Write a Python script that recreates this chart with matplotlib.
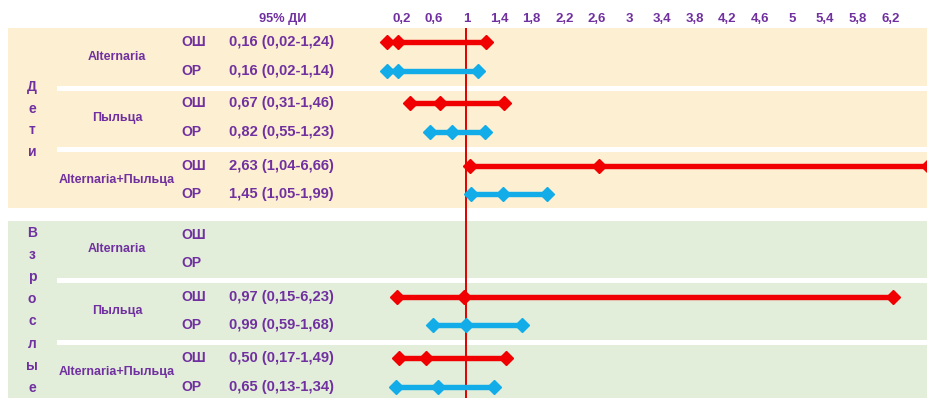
import matplotlib
matplotlib.use("Agg")
import matplotlib.pyplot as plt
from matplotlib.patches import Rectangle

plt.rcParams['font.family'] = ['Liberation Sans', 'DejaVu Sans']

# ---- data ----
groups = ['Alternaria', 'Пыльца', 'Alternaria+Пыльца']
measures = ['ОШ', 'ОР']

children_or = [0.16, 0.67, 2.63]
children_or_lo = [0.02, 0.31, 1.04]
children_or_hi = [1.24, 1.46, 6.66]
children_rr = [0.16, 0.82, 1.45]
children_rr_lo = [0.02, 0.55, 1.05]
children_rr_hi = [1.14, 1.23, 1.99]

adults_or = [None, 0.97, 0.50]
adults_or_lo = [None, 0.15, 0.17]
adults_or_hi = [None, 6.23, 1.49]
adults_rr = [None, 0.99, 0.65]
adults_rr_lo = [None, 0.59, 0.13]
adults_rr_hi = [None, 1.68, 1.34]

tick_values = [0.2, 0.6, 1, 1.4, 1.8, 2.2, 2.6, 3, 3.4, 3.8, 4.2, 4.6, 5, 5.4, 5.8, 6.2]
tick_labels = ['0,2', '0,6', '1', '1,4', '1,8', '2,2', '2,6', '3', '3,4', '3,8',
               '4,2', '4,6', '5', '5,4', '5,8', '6,2']

# ---- style ----
W, H = 928, 398
PURPLE = '#7030A0'
RED = '#F00000'
BLUE = '#12ADE8'
CREAM = '#FDF0D2'
GREEN = '#E2EEDA'

fig = plt.figure(figsize=(W / 100, H / 100), dpi=100)
fig.patch.set_facecolor('white')

# background / table layer, in pixel-like units
bg = fig.add_axes([0, 0, 1, 1])
bg.set_xlim(0, W)
bg.set_ylim(H, 0)
bg.axis('off')

# row layout: (top, bottom) of each panel, row centres of each group
panels = [
    dict(name='Дети', top=28, bottom=208, color=CREAM,
         seps=[88.5, 149.5], rows=[(42, 71), (103, 132), (166, 194)],
         letters_y0=87, letters_step=21.6, est=(children_or, children_rr),
         lo=(children_or_lo, children_rr_lo), hi=(children_or_hi, children_rr_hi)),
    dict(name='Взрослые', top=221, bottom=H + 2, color=GREEN,
         seps=[280, 342], rows=[(235, 263), (297, 325), (358, 387)],
         letters_y0=233, letters_step=22.1, est=(adults_or, adults_rr),
         lo=(adults_or_lo, adults_rr_lo), hi=(adults_or_hi, adults_rr_hi)),
]

txt = dict(color=PURPLE, fontweight='bold')

bg.text(283, 19, '95% ДИ', ha='center', va='center', fontsize=9.2, **txt)

for p in panels:
    bg.add_patch(Rectangle((8, p['top']), W - 8, p['bottom'] - p['top'],
                           facecolor=p['color'], edgecolor='none', zorder=0))
    for s in p['seps']:
        bg.add_patch(Rectangle((57, s - 2.5), W - 57, 5,
                               facecolor='white', edgecolor='none', zorder=1))
    for k, ch in enumerate(p['name']):
        bg.text(32, p['letters_y0'] + p['letters_step'] * k, ch, ha='center',
                va='center', fontsize=10, **txt)
    for g, (y1, y2) in enumerate(p['rows']):
        bg.text(117, (y1 + y2) / 2, groups[g], ha='center', va='center',
                fontsize=9, **txt)
        for m, y in enumerate((y1, y2)):
            bg.text(181, y, measures[m], ha='left', va='center', fontsize=10, **txt)
            est = p['est'][m][g]
            if est is not None:
                lo = p['lo'][m][g]
                hi = p['hi'][m][g]
                label = '{} ({}-{})'.format(f'{est:.2f}', f'{lo:.2f}', f'{hi:.2f}')
                bg.text(229, y, label.replace('.', ','), ha='left', va='center',
                        fontsize=10.6, **txt)

# forest plot layer, x in value units
x0_px = 385
px_per_unit = 81.5
ax = fig.add_axes([x0_px / W, 0, (W - x0_px) / W, 1])
ax.set_xlim(0, (W - x0_px) / px_per_unit)
ax.set_ylim(H, 0)
ax.axis('off')
ax.patch.set_alpha(0)

for v, lab in zip(tick_values, tick_labels):
    ax.text(v, 19, lab, ha='center', va='center', fontsize=9.5, **txt)

ax.plot([1, 1], [28, H], color='#E00000', lw=1.4, zorder=2, solid_capstyle='butt')

for p in panels:
    for g, rows in enumerate(p['rows']):
        for m, y in enumerate(rows):
            est = p['est'][m][g]
            if est is None:
                continue
            lo = p['lo'][m][g]
            hi = p['hi'][m][g]
            c = RED if m == 0 else BLUE
            ax.plot([lo, hi], [y, y], color=c, lw=3.9, zorder=3,
                    solid_capstyle='butt', clip_on=False)
            ax.plot([lo, est, hi], [y, y, y], linestyle='none', marker='D',
                    markersize=7.4, color=c, zorder=4, clip_on=False)

fig.savefig('out.png', dpi=100, facecolor='white')
